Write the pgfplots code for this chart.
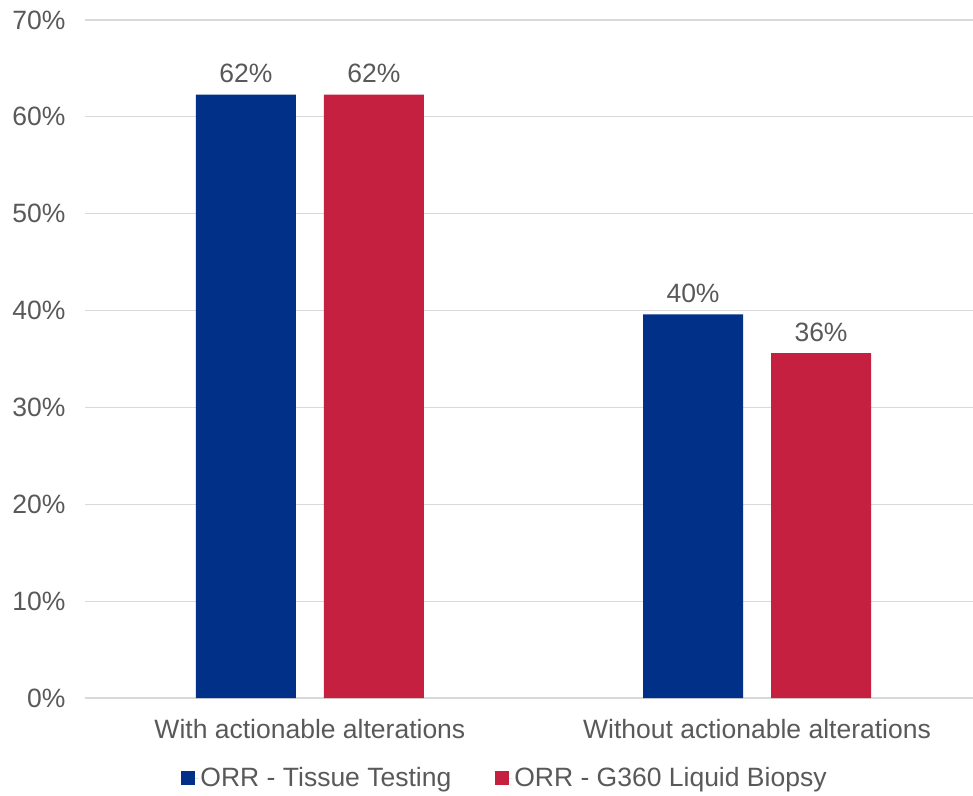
\documentclass[border=0pt]{standalone}
\usepackage{fontspec}
\setmainfont{Liberation Sans}
\usepackage{pgfplots}
\pgfplotsset{compat=1.18}

\definecolor{tissueblue}{RGB}{0,48,135}
\definecolor{liquidred}{RGB}{198,32,64}
\definecolor{gridgray}{RGB}{217,217,217}
\definecolor{textgray}{RGB}{89,89,89}

\begin{document}
\begin{tikzpicture}
\begin{axis}[
    scale only axis,
    width=888pt, height=678pt,
    ymin=0, ymax=70,
    xmin=-0.503, xmax=1.483,
    ytick={0,10,...,70},
    yticklabel={\pgfmathprintnumber{\tick}\%},
    /pgf/number format/assume math mode=true,
    xtick={0,1},
    xticklabels={With actionable alterations, Without actionable alterations},
    ymajorgrids,
    grid style={gridgray, line width=1.2pt},
    axis line style={draw=none},
    axis x line*=bottom,
    axis y line*=left,
    major tick length=0pt,
    tick label style={font=\fontsize{26.5}{30}\selectfont, text=textgray},
    yticklabel style={xshift=-16pt},
    xticklabel style={yshift=-18pt},
    ybar=28pt,
    bar width=100pt,
    nodes near coords={\pgfmathprintnumber[fixed,precision=0]{\pgfplotspointmeta}\%},
    nodes near coords style={font=\fontsize{26.5}{30}\selectfont, text=textgray, yshift=8pt},
    legend columns=2,
    legend style={
        draw=none, fill=none,
        at={(0.473,-0.118)}, anchor=center,
        font=\fontsize{26.5}{30}\selectfont, text=textgray,
        /tikz/every even column/.append style={column sep=42pt},
    },
    legend image code/.code={%
        \fill[#1] (0pt,-7pt) rectangle (14pt,7pt);
        \path (0pt,0pt) -- (17pt,0pt);},
    clip=false,
]
% baseline drawn as a light gridline
\draw[gridgray, line width=1.2pt] (rel axis cs:0,0) -- (rel axis cs:1,0);

\addplot[draw=none, fill=tissueblue] coordinates {(0,62.3) (1,39.6)};
\addlegendentry{ORR - Tissue Testing}
\addplot[draw=none, fill=liquidred] coordinates {(0,62.3) (1,35.6)};
\addlegendentry{ORR - G360 Liquid Biopsy}

\coordinate (bl) at (rel axis cs:-0.0957,-0.1445);
\coordinate (tr) at (rel axis cs:1,1.0295);
\end{axis}
\pgfresetboundingbox
\useasboundingbox (bl) rectangle (tr);
\end{tikzpicture}
\end{document}
